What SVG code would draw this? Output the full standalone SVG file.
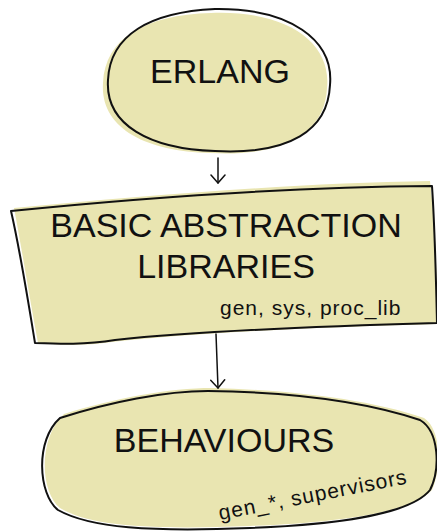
<svg xmlns="http://www.w3.org/2000/svg" width="437" height="531" viewBox="0 0 437 531">
<defs>
<style>
.fill{fill:#e9e5b1;stroke:none}
.edge{fill:none;stroke:#111;stroke-width:2;stroke-linejoin:round;stroke-linecap:round}
.title{font-family:"Liberation Sans",Arial,sans-serif;font-size:34px;fill:#111;text-anchor:middle}
.sub{font-family:"Liberation Sans",Arial,sans-serif;font-size:21px;fill:#111;letter-spacing:1px}
.conn{fill:none;stroke:#111;stroke-width:1.5;stroke-linecap:round}
</style>
<marker id="arr" markerWidth="16" markerHeight="16" refX="13" refY="8" orient="auto" markerUnits="userSpaceOnUse" viewBox="0 0 16 16">
<path d="M5,1 L13,8 L5,15" fill="none" stroke="#111" stroke-width="1.5" stroke-linecap="round" stroke-linejoin="round"/>
</marker>
</defs>
<g id="erlang">
<path class="fill" d="M211,13 C286,10 332,42 327,88 C325,133 285,157 210,153 C145,151 100,128 103,83 C105,38 145,15 211,13 Z"/>
<path class="edge" d="M215,9 C290,8 334,40 330,85 C328,130 290,155 215,151 C150,149 105,125 108,80 C110,35 150,12 215,9 Z"/>
<text class="title" x="220" y="83">ERLANG</text>
</g>
<g id="libraries">
<path class="fill" d="M14,208 C150,195 300,183 430,181 C436,230 437,280 437,324 C330,327 200,332 112,342 C85,346 60,345 38,343 C30,300 22,250 14,208 Z"/>
<path class="edge" d="M11,211 C150,197 300,187 432,186 C435,230 436,280 437,323 C330,326 200,331 115,340 C85,345 60,344 35,343 C28,300 20,250 11,211 Z"/>
<text class="title" x="226" y="237">BASIC ABSTRACTION</text>
<text class="title" x="226" y="278">LIBRARIES</text>
<text class="sub" x="220" y="315">gen, sys, proc_lib</text>
</g>
<g id="behaviours">
<path class="fill" d="M64,414 C115,398 170,388 212,388 C285,390 365,398 424,418 C442,430 441,470 432,490 C410,514 330,523 250,526 C150,530 90,526 60,508 C40,492 38,438 64,414 Z"/>
<path class="edge" d="M60,418 C110,402 165,391 208,391 C280,392 360,400 420,420 C440,432 440,470 430,490 C410,515 330,525 250,528 C150,532 90,528 58,510 C38,494 35,440 60,418 Z"/>
<text class="title" x="224" y="452">BEHAVIOURS</text>
<text class="sub" x="220" y="520" transform="rotate(-11 220 520)">gen_*, supervisors</text>
</g>
<g id="connectors">
<path class="conn" d="M218,158 L218,183" marker-end="url(#arr)"/>
<path class="conn" d="M216,334 L218,388" marker-end="url(#arr)"/>
</g>
</svg>
